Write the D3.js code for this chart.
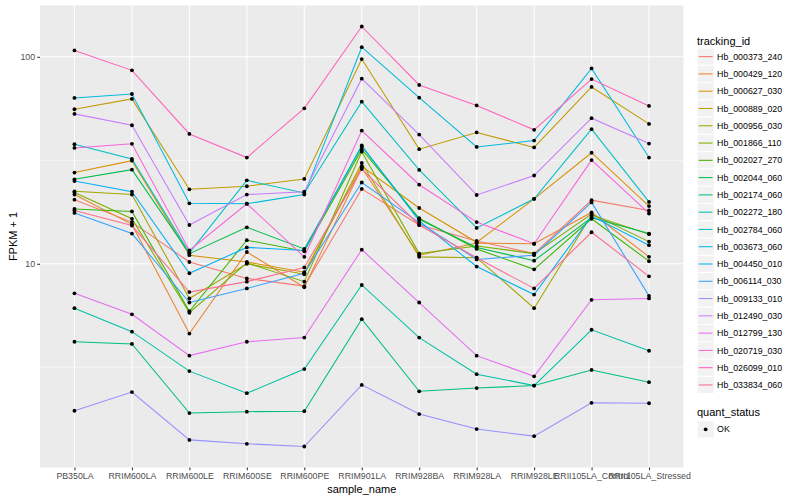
<!DOCTYPE html>
<html>
<head>
<meta charset="utf-8">
<script src="https://cdn.jsdelivr.net/npm/d3@7"></script>
<style>
  html, body { margin: 0; padding: 0; background: #fff; }
  svg text { font-family: "Liberation Sans", Arial, Helvetica, sans-serif; }
</style>
</head>
<body>
<svg id="chart" width="800" height="500"></svg>
<script>
// ---------------- data ----------------
const categories = ["PB350LA","RRIM600LA","RRIM600LE","RRIM600SE","RRIM600PE","RRIM901LA",
  "RRIM928BA","RRIM928LA","RRIM928LE","RRII105LA_Control","RRII105LA_Stressed"];

const trackingIds = ["Hb_000373_240","Hb_000429_120","Hb_000627_030","Hb_000889_020","Hb_000956_030",
  "Hb_001866_110","Hb_002027_270","Hb_002044_060","Hb_002174_060","Hb_002272_180","Hb_002784_060",
  "Hb_003673_060","Hb_004450_010","Hb_006114_030","Hb_009133_010","Hb_012490_030","Hb_012799_130",
  "Hb_020719_030","Hb_026099_010","Hb_033834_060"];

const palette = ["#F8766D","#EA8331","#D89000","#C09B00","#A3A500","#7CAE00","#39B600","#00BB4E",
  "#00BF7D","#00C1A3","#00BFC4","#00BAE0","#00B0F6","#35A2FF","#9590FF","#C77CFF","#E76BF3",
  "#FA62DB","#FF62BC","#FF6C91"];

// FPKM + 1 per sample (order of categories)
const Hb_000373_240 = [20.4, 15.9, 10.2, 8.5, 7.8, 23.0, 15.4, 12.9, 11.2, 20.3, 18.1];
const Hb_000429_120 = [21.6, 15.5, 4.6, 11.4, 7.7, 29.1, 11.0, 12.6, 12.5, 17.7, 10.8];
const Hb_000627_030 = [27.6, 31.5, 11.0, 10.2, 9.1, 29.6, 18.6, 12.7, 20.6, 34.4, 19.0];
const Hb_000889_020 = [55.8, 62.6, 22.9, 23.7, 25.7, 97.5, 35.8, 43.1, 36.5, 71.5, 47.4];
const Hb_000956_030 = [22.4, 21.6, 6.8, 10.0, 8.9, 30.7, 10.8, 10.7, 6.1, 17.2, 13.9];
const Hb_001866_110 = [22.1, 16.5, 5.8, 10.1, 8.2, 34.8, 11.2, 12.2, 11.2, 17.4, 12.8];
const Hb_002027_270 = [18.4, 17.9, 5.9, 13.0, 11.5, 35.7, 16.6, 11.8, 9.4, 16.5, 10.3];
const Hb_002044_060 = [25.6, 28.5, 11.2, 15.0, 11.8, 36.9, 16.4, 12.0, 10.35, 16.7, 14.0];
const Hb_002174_060 = [4.2, 4.1, 1.90, 1.93, 1.94, 5.4, 2.42, 2.51, 2.58, 3.07, 2.68];
const Hb_002272_180 = [6.1, 4.7, 3.03, 2.37, 3.1, 7.9, 4.4, 2.93, 2.58, 4.8, 3.8];
const Hb_002784_060 = [37.8, 32.1, 11.3, 25.3, 22.0, 60.7, 28.4, 14.9, 20.6, 44.7, 19.9];
const Hb_003673_060 = [63.3, 66.1, 19.6, 19.5, 21.6, 111.3, 63.5, 36.7, 39.4, 87.9, 32.6];
const Hb_004450_010 = [25.1, 22.3, 9.0, 12.0, 11.6, 37.3, 16.1, 9.7, 7.1, 17.0, 12.3];
const Hb_006114_030 = [17.6, 14.0, 6.5, 7.6, 9.0, 24.7, 15.8, 10.5, 11.0, 19.8, 7.0];
const Hb_009133_010 = [1.95, 2.40, 1.41, 1.35, 1.31, 2.60, 1.88, 1.59, 1.47, 2.13, 2.12];
const Hb_012490_030 = [53.0, 46.7, 15.4, 21.6, 22.3, 78.4, 42.1, 21.5, 26.7, 50.5, 38.1];
const Hb_012799_130 = [7.2, 5.7, 3.6, 4.2, 4.4, 11.7, 6.5, 3.6, 2.86, 6.7, 6.8];
const Hb_020719_030 = [36.3, 38.0, 11.6, 19.5, 10.8, 44.0, 24.1, 15.9, 12.5, 31.7, 17.5];
const Hb_026099_010 = [107.4, 86.0, 42.4, 32.6, 56.4, 140.1, 73.1, 58.2, 44.4, 78.1, 57.9];
const Hb_033834_060 = [18.1, 15.3, 7.3, 8.2, 9.6, 28.7, 15.4, 10.7, 7.6, 14.2, 8.7];

const yTickValues = [10, 100];
const yTickLabels = ["10", "100"];
const yMinorValues = [Math.sqrt(10), Math.sqrt(1000)];
const quantStatus = ["OK"];

const seriesValues = [Hb_000373_240, Hb_000429_120, Hb_000627_030, Hb_000889_020, Hb_000956_030,
  Hb_001866_110, Hb_002027_270, Hb_002044_060, Hb_002174_060, Hb_002272_180, Hb_002784_060,
  Hb_003673_060, Hb_004450_010, Hb_006114_030, Hb_009133_010, Hb_012490_030, Hb_012799_130,
  Hb_020719_030, Hb_026099_010, Hb_033834_060];

const series = trackingIds.map((id, i) => ({
  id, color: palette[i],
  values: categories.map((c, j) => ({ cat: c, v: seriesValues[i][j] }))
}));

// ---------------- layout ----------------
const svg = d3.select("#chart");
const P = { left: 40, right: 683.5, top: 5.5, bottom: 467.5 };

const allV = seriesValues.flat();
const lmin = Math.log10(d3.min(allV)), lmax = Math.log10(d3.max(allV));
const pad = (lmax - lmin) * 0.05;
const y = d3.scaleLog().domain([Math.pow(10, lmin - pad), Math.pow(10, lmax + pad)])
  .range([P.bottom, P.top]);
const x = d3.scalePoint().domain(categories).range([P.left, P.right]).padding(0.6);

// panel
svg.append("rect").attr("x", P.left).attr("y", P.top)
  .attr("width", P.right - P.left).attr("height", P.bottom - P.top).attr("fill", "#EBEBEB");

const grid = svg.append("g");
yMinorValues.forEach(v => grid.append("line")
  .attr("x1", P.left).attr("x2", P.right).attr("y1", y(v)).attr("y2", y(v))
  .attr("stroke", "#fff").attr("stroke-width", 0.55));
yTickValues.forEach(v => grid.append("line")
  .attr("x1", P.left).attr("x2", P.right).attr("y1", y(v)).attr("y2", y(v))
  .attr("stroke", "#fff").attr("stroke-width", 1.1));
categories.forEach(c => grid.append("line")
  .attr("x1", x(c)).attr("x2", x(c)).attr("y1", P.top).attr("y2", P.bottom)
  .attr("stroke", "#fff").attr("stroke-width", 1.1));

// lines
const line = d3.line().x(d => x(d.cat)).y(d => y(d.v));
const lg = svg.append("g");
series.forEach(s => lg.append("path").attr("d", line(s.values))
  .attr("fill", "none").attr("stroke", s.color).attr("stroke-width", 1.05));

// points
const pg = svg.append("g");
series.forEach(s => s.values.forEach(d => pg.append("circle")
  .attr("cx", x(d.cat)).attr("cy", y(d.v)).attr("r", 1.9).attr("fill", "#000")));

// axes
const ax = svg.append("g");
const yAxis = d3.axisLeft(y).tickValues(yTickValues).tickFormat((d, i) => yTickLabels[i])
  .tickSize(2.75).tickPadding(2.2);
const gy = svg.append("g").attr("transform", `translate(${P.left},0)`).call(yAxis);
gy.select(".domain").remove();
gy.selectAll("line").attr("stroke", "#333333").attr("stroke-width", 1.07);
gy.selectAll("text").attr("fill", "#4D4D4D").style("font-size", "8.8px");

const xAxis = d3.axisBottom(x).tickSize(2.75).tickPadding(2.2);
const gx = svg.append("g").attr("transform", `translate(0,${P.bottom})`).call(xAxis);
gx.select(".domain").remove();
gx.selectAll("line").attr("stroke", "#333333").attr("stroke-width", 1.07);
gx.selectAll("text").attr("fill", "#4D4D4D").style("font-size", "8.8px");

svg.append("text").attr("x", (P.left + P.right) / 2).attr("y", 493)
  .attr("text-anchor", "middle").style("font-size", "11px").attr("fill", "#000").text("sample_name");
svg.append("text").attr("transform", `translate(17,${(P.top + P.bottom) / 2}) rotate(-90)`)
  .attr("text-anchor", "middle").style("font-size", "11px").attr("fill", "#000").text("FPKM + 1");

// legend: tracking_id
const leg = svg.append("g");
const kx = 697, ky0 = 48, ks = 17.28;
leg.append("text").attr("x", kx).attr("y", 44.5).style("font-size", "11px").text("tracking_id");
series.forEach((s, i) => {
  const ky = ky0 + i * ks;
  leg.append("rect").attr("x", kx).attr("y", ky).attr("width", ks).attr("height", ks)
    .attr("fill", "#F2F2F2").attr("stroke", "#fff").attr("stroke-width", 1);
  leg.append("line").attr("x1", kx + 1.7).attr("x2", kx + ks - 1.7)
    .attr("y1", ky + ks / 2).attr("y2", ky + ks / 2).attr("stroke", s.color).attr("stroke-width", 1.05);
  leg.append("text").attr("x", kx + ks + 2.8).attr("y", ky + ks / 2 + 3.1)
    .style("font-size", "8.8px").attr("fill", "#000").text(s.id);
});

// legend: quant_status
leg.append("text").attr("x", kx).attr("y", 416).style("font-size", "11px").text("quant_status");
quantStatus.forEach((q, i) => {
  const ky = 420.7 + i * ks;
  leg.append("rect").attr("x", kx).attr("y", ky).attr("width", ks).attr("height", ks)
    .attr("fill", "#F2F2F2").attr("stroke", "#fff").attr("stroke-width", 1);
  leg.append("circle").attr("cx", kx + ks / 2).attr("cy", ky + ks / 2).attr("r", 1.9).attr("fill", "#000");
  leg.append("text").attr("x", kx + ks + 2.8).attr("y", ky + ks / 2 + 3.1)
    .style("font-size", "8.8px").attr("fill", "#000").text(q);
});
</script>
</body>
</html>
